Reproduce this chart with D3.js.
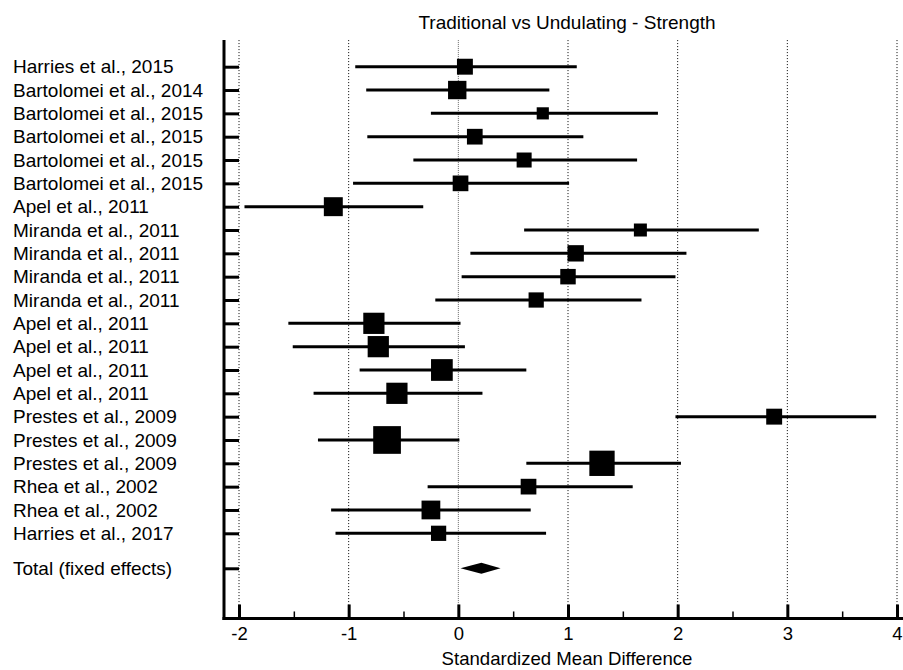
<!DOCTYPE html>
<html>
<head>
<meta charset="utf-8">
<script src="https://cdn.jsdelivr.net/npm/d3@7"></script>
<style>
  body { margin: 0; background: #fff; }
  text { font-family: "Liberation Sans", Arial, sans-serif; fill: #000; }
</style>
</head>
<body>
<svg id="forest" width="903" height="670"></svg>
<script>
// studies, top to bottom
var studies = ["Harries et al., 2015", "Bartolomei et al., 2014", "Bartolomei et al., 2015",
  "Bartolomei et al., 2015", "Bartolomei et al., 2015", "Bartolomei et al., 2015",
  "Apel et al., 2011", "Miranda et al., 2011", "Miranda et al., 2011", "Miranda et al., 2011",
  "Miranda et al., 2011", "Apel et al., 2011", "Apel et al., 2011", "Apel et al., 2011",
  "Apel et al., 2011", "Prestes et al., 2009", "Prestes et al., 2009", "Prestes et al., 2009",
  "Rhea et al., 2002", "Rhea et al., 2002", "Harries et al., 2017"];
var smd   = [0.06, -0.01, 0.77, 0.15, 0.60, 0.02, -1.14, 1.66, 1.07, 1.00, 0.71,
             -0.77, -0.73, -0.15, -0.56, 2.88, -0.65, 1.31, 0.64, -0.25, -0.18];
var lower = [-0.94, -0.84, -0.25, -0.83, -0.41, -0.96, -1.95, 0.60, 0.11, 0.03, -0.21,
             -1.55, -1.51, -0.90, -1.32, 1.98, -1.28, 0.62, -0.28, -1.16, -1.12];
var upper = [1.08, 0.83, 1.82, 1.14, 1.63, 1.01, -0.32, 2.74, 2.08, 1.98, 1.67,
             0.02, 0.06, 0.62, 0.22, 3.81, 0.01, 2.03, 1.59, 0.66, 0.80];
var weight = [3.6, 4.8, 2.1, 3.5, 3.2, 3.5, 5.1, 2.4, 3.8, 3.4, 3.3,
              6.4, 6.4, 6.7, 6.4, 3.6, 10.9, 9.1, 3.5, 5.0, 3.3];
var totalLabel = "Total (fixed effects)";
var total = {est: 0.21, lo: 0.02, hi: 0.385};
var xTicks = [-2, -1, 0, 1, 2, 3, 4];
var xMinor = [-1.5, -0.5, 0.5, 1.5, 2.5, 3.5];

var svg = d3.select("#forest");

var x = d3.scaleLinear().domain([-2, 4]).range([239, 897]);
var y = d3.scaleLinear().domain([0, 20]).range([66.7, 533.3]);
var size = d3.scaleSqrt().domain([0, 10.9]).range([0, 27.7]);

var totalRow = 21.5;
var axisX = 224, axisTop = y(-1.14), axisBottom = y(23.65);

var data = studies.map(function (s, i) {
  return {name: s, row: i, est: smd[i], lo: lower[i], hi: upper[i], w: weight[i]};
});

// title
svg.append("text")
    .attr("x", 567).attr("y", 22)
    .attr("dy", "0.35em")
    .attr("text-anchor", "middle")
    .style("font-size", "19px")
    .text("Traditional vs Undulating - Strength");

// vertical dotted grid
svg.append("g").selectAll("line")
    .data(xTicks)
    .enter().append("line")
    .attr("x1", function (d) { return x(d); })
    .attr("x2", function (d) { return x(d); })
    .attr("y1", axisTop)
    .attr("y2", axisBottom - 14)
    .attr("stroke", function (d) { return d === 0 ? "#666" : "#000"; })
    .attr("stroke-width", 1)
    .attr("stroke-dasharray", function (d) { return d === 0 ? "1,1" : "1,2"; });

// x axis: major + minor ticks
var xg = svg.append("g")
    .attr("transform", "translate(0," + axisBottom + ")")
    .call(d3.axisBottom(x).tickValues(xTicks).tickSize(-14).tickSizeOuter(0)
      .tickFormat(d3.format("d")));
xg.select(".domain").remove();
xg.selectAll(".tick line").attr("stroke-width", 3);
xg.selectAll(".tick text").attr("y", 15).attr("dy", "0.35em")
    .style("font-size", "18.5px").style("font-family", "Liberation Sans, Arial, sans-serif")
    .text(function (d) { return d < 0 ? "-" + Math.abs(d) : d; });

var xm = svg.append("g")
    .attr("transform", "translate(0," + axisBottom + ")")
    .call(d3.axisBottom(x).tickValues(xMinor).tickSize(-7).tickSizeOuter(0).tickFormat(""));
xm.select(".domain").remove();
xm.selectAll(".tick line").attr("stroke-width", 1.5);

svg.append("text")
    .attr("x", 567).attr("y", 665)
    .attr("text-anchor", "middle")
    .style("font-size", "18.6px")
    .text("Standardized Mean Difference");

// y axis ticks
var rows = d3.range(0, 21).concat([totalRow]);
var yg = svg.append("g")
    .attr("transform", "translate(" + axisX + ",0)")
    .call(d3.axisRight(y).tickValues(rows).tickSize(15).tickSizeOuter(0).tickFormat(""));
yg.select(".domain").remove();
yg.selectAll(".tick line").attr("stroke-width", 3);

// study labels
svg.append("g").selectAll("text")
    .data(data)
    .enter().append("text")
    .attr("x", 13)
    .attr("y", function (d) { return y(d.row); })
    .attr("dy", "0.35em")
    .style("font-size", "19px")
    .text(function (d) { return d.name; });

svg.append("text")
    .attr("x", 13).attr("y", y(totalRow))
    .attr("dy", "0.35em")
    .style("font-size", "19px")
    .text(totalLabel);

// axis frame lines
svg.append("line")
    .attr("x1", axisX).attr("x2", axisX)
    .attr("y1", axisTop).attr("y2", axisBottom + 1.5)
    .attr("stroke", "#000").attr("stroke-width", 3);
svg.append("line")
    .attr("x1", axisX - 1.5).attr("x2", 903)
    .attr("y1", axisBottom).attr("y2", axisBottom)
    .attr("stroke", "#000").attr("stroke-width", 3);

// confidence intervals
var g = svg.append("g");
g.selectAll("line.ci")
    .data(data)
    .enter().append("line")
    .attr("class", "ci")
    .attr("x1", function (d) { return x(d.lo); })
    .attr("x2", function (d) { return x(d.hi); })
    .attr("y1", function (d) { return y(d.row); })
    .attr("y2", function (d) { return y(d.row); })
    .attr("stroke", "#000")
    .attr("stroke-width", 3);

g.selectAll("rect.est")
    .data(data)
    .enter().append("rect")
    .attr("class", "est")
    .attr("x", function (d) { return x(d.est) - size(d.w) / 2; })
    .attr("y", function (d) { return y(d.row) - size(d.w) / 2; })
    .attr("width", function (d) { return size(d.w); })
    .attr("height", function (d) { return size(d.w); })
    .attr("fill", "#000");

// pooled estimate diamond
var ty = y(totalRow);
g.append("path")
    .attr("d", "M" + x(total.lo) + "," + ty +
               "L" + x(total.est) + "," + (ty - 5.5) +
               "L" + x(total.hi) + "," + ty +
               "L" + x(total.est) + "," + (ty + 5.5) + "Z")
    .attr("fill", "#000");
</script>
</body>
</html>
